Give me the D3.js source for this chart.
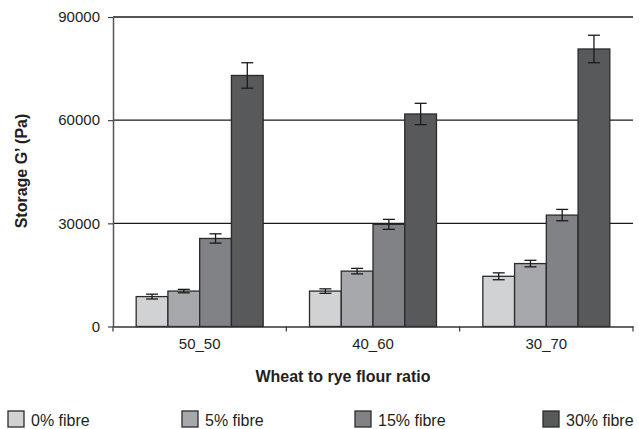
<!DOCTYPE html>
<html><head><meta charset="utf-8">
<script src="https://cdn.jsdelivr.net/npm/d3@7"></script>
<style>
body{margin:0;background:#fff;}
text{font-family:"Liberation Sans",Arial,sans-serif;fill:#231f20;}
</style></head>
<body>
<svg id="c" width="639" height="429"></svg>
<script>
const categories = ["50_50", "40_60", "30_70"];
const seriesNames = ["0% fibre", "5% fibre", "15% fibre", "30% fibre"];
const fibre0 = [8700, 10300, 14600];
const fibre5 = [10300, 16100, 18300];
const fibre15 = [25600, 29700, 32400];
const fibre30 = [73000, 61800, 80700];
const err0 = [700, 650, 1000];
const err5 = [500, 800, 950];
const err15 = [1350, 1450, 1650];
const err30 = [3700, 3100, 4000];
const yTicks = [0, 30000, 60000, 90000];
const colors = ["#d1d2d4", "#a6a8ab", "#808285", "#58595b"];

const values = [fibre0, fibre5, fibre15, fibre30];
const errors = [err0, err5, err15, err30];

const svg = d3.select("#c");
const mLeft = 113, mRight = 633, mTop = 17, mBottom = 326.5;

const x = d3.scaleBand().domain(categories).range([mLeft, mRight]).paddingInner(0).paddingOuter(0);
const xi = d3.scaleBand().domain(d3.range(4)).range([0, x.bandwidth()]).paddingInner(0).paddingOuter(0.73);
const y = d3.scaleLinear().domain([0, 90000]).range([mBottom, mTop]);

// gridlines
svg.append("g").selectAll("line").data(yTicks.filter(d => d > 0)).join("line")
  .attr("x1", mLeft).attr("x2", mRight)
  .attr("y1", d => y(d)).attr("y2", d => y(d))
  .attr("stroke", "#1a1a1a").attr("stroke-width", 1.3);

// bars
const data = [];
categories.forEach((c, ci) => values.forEach((s, si) => data.push({c, si, v: s[ci], e: errors[si][ci]})));

svg.append("g").selectAll("rect").data(data).join("rect")
  .attr("x", d => x(d.c) + xi(d.si))
  .attr("width", xi.bandwidth())
  .attr("y", d => y(d.v))
  .attr("height", d => y(0) - y(d.v))
  .attr("fill", d => colors[d.si])
  .attr("stroke", "#2b2b2b").attr("stroke-width", 1.3);

// error bars
const eg = svg.append("g").attr("stroke", "#1a1a1a").attr("stroke-width", 1.3);
data.forEach(d => {
  const cx = x(d.c) + xi(d.si) + xi.bandwidth() / 2;
  eg.append("line").attr("x1", cx).attr("x2", cx).attr("y1", y(d.v + d.e)).attr("y2", y(d.v - d.e));
  eg.append("line").attr("x1", cx - 6).attr("x2", cx + 6).attr("y1", y(d.v + d.e)).attr("y2", y(d.v + d.e));
  eg.append("line").attr("x1", cx - 6).attr("x2", cx + 6).attr("y1", y(d.v - d.e)).attr("y2", y(d.v - d.e));
});

// y axis
const yAxis = svg.append("g").attr("transform", `translate(${mLeft},0)`)
  .call(d3.axisLeft(y).tickValues(yTicks).tickSize(5).tickSizeOuter(0).tickPadding(8).tickFormat(d3.format("d")));
yAxis.select(".domain").attr("stroke", "#555").attr("stroke-width", 1.5);
yAxis.selectAll(".tick line").attr("stroke", "#444").attr("stroke-width", 1.2);
yAxis.selectAll("text").style("font-size", "15px").attr("fill", "#231f20").style("font-family", "Liberation Sans, Arial, sans-serif");

// x axis
const xAxis = svg.append("g").attr("transform", `translate(0,${mBottom})`)
  .call(d3.axisBottom(x).tickSize(0).tickSizeOuter(0).tickPadding(12));
xAxis.select(".domain").attr("stroke", "#333").attr("stroke-width", 1.3);
xAxis.selectAll(".tick text").style("font-size", "15px").attr("fill", "#231f20").style("font-family", "Liberation Sans, Arial, sans-serif");
// boundary ticks at category edges
const edges = [x(categories[0])].concat(categories.map(d => x(d) + x.bandwidth()));
svg.append("g").selectAll("line").data(edges).join("line")
  .attr("x1", d => d).attr("x2", d => d)
  .attr("y1", mBottom).attr("y2", mBottom + 5)
  .attr("stroke", "#333").attr("stroke-width", 1.2);

// axis titles
svg.append("text").attr("transform", "translate(27,171) rotate(-90)")
  .attr("text-anchor", "middle").style("font-size", "16px").style("font-weight", "bold")
  .text("Storage G\u2019 (Pa)");
svg.append("text").attr("x", 343).attr("y", 382)
  .attr("text-anchor", "middle").style("font-size", "16px").style("font-weight", "bold")
  .text("Wheat to rye flour ratio");

// legend
const legendX = [8, 182, 355, 543];
const lg = svg.append("g").selectAll("g").data(seriesNames).join("g")
  .attr("transform", (d, i) => `translate(${legendX[i]},411)`);
lg.append("rect").attr("width", 16).attr("height", 16)
  .attr("fill", (d, i) => colors[i]).attr("stroke", "#2b2b2b").attr("stroke-width", 1.3);
lg.append("text").attr("x", 23).attr("y", 15).style("font-size", "16px").text(d => d);
</script>
</body></html>
